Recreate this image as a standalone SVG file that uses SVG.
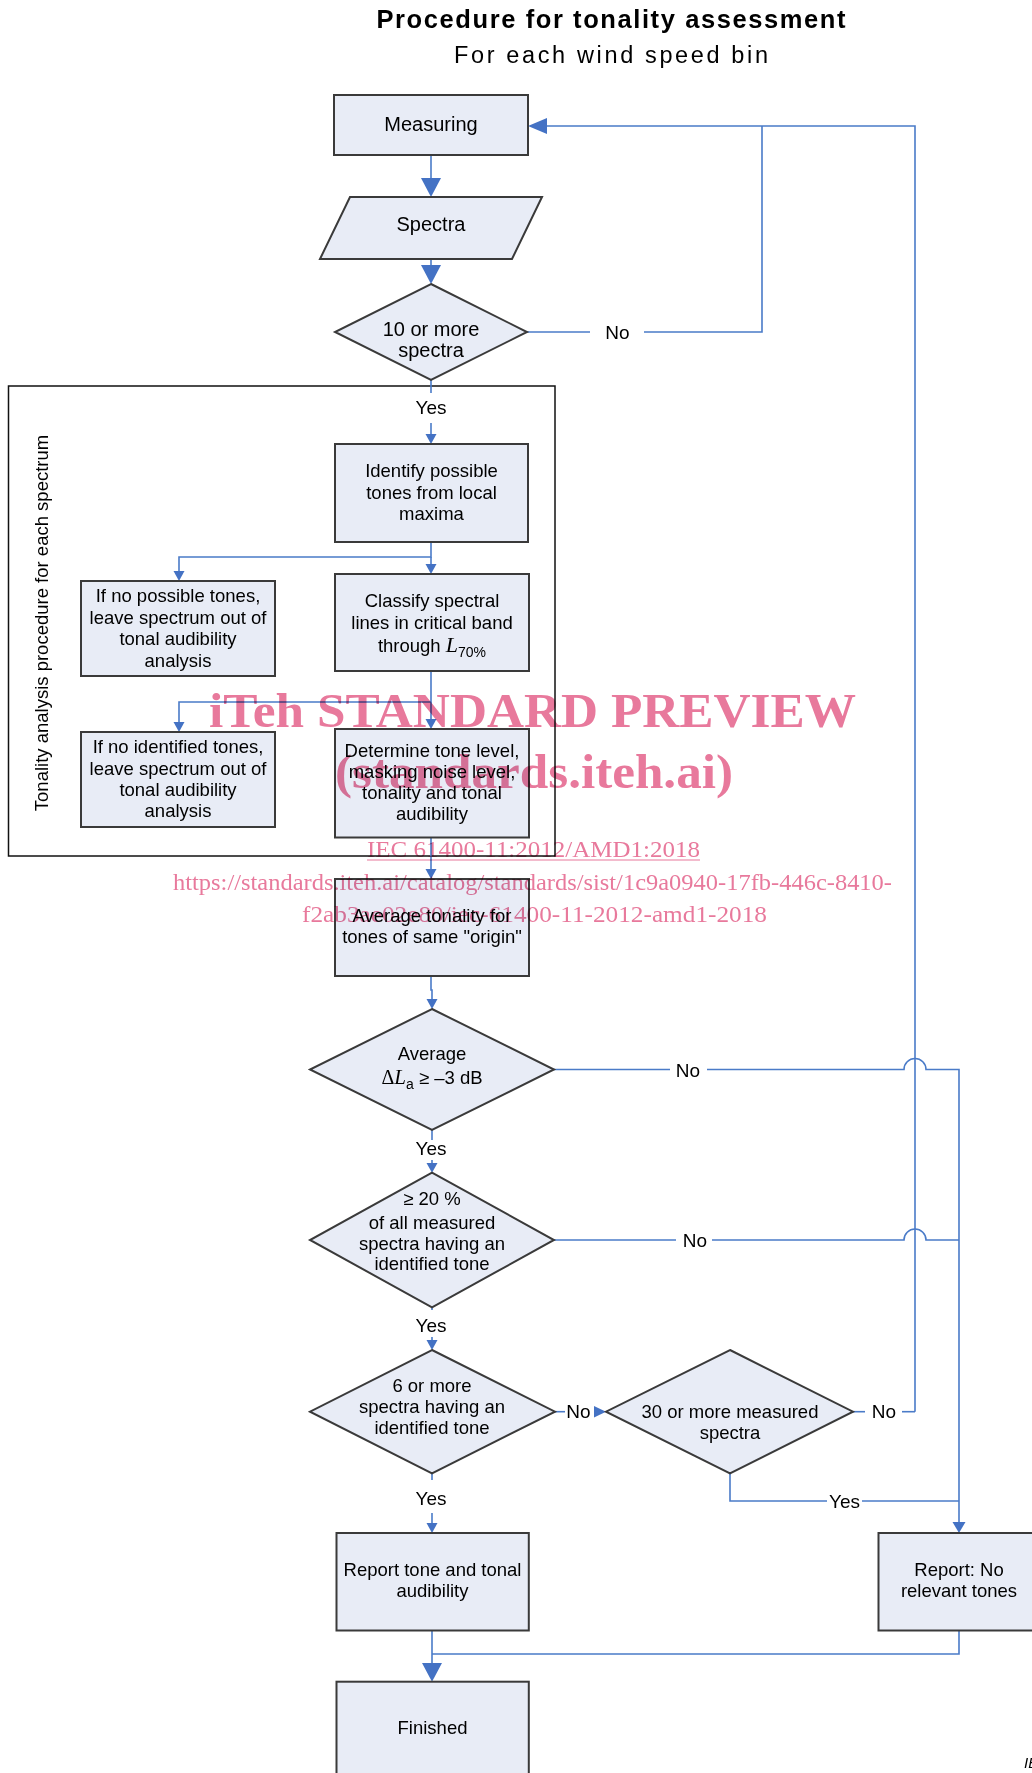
<svg xmlns="http://www.w3.org/2000/svg" width="1032" height="1773" viewBox="0 0 1032 1773">
<style>
.n{fill:#E8ECF6;stroke:#3a3a3a;stroke-width:2}
.t{font-family:"Liberation Sans",Arial,sans-serif;font-size:18.5px;fill:#000;text-anchor:middle}
.t20{font-size:20px}
.lbl{font-family:"Liberation Sans",Arial,sans-serif;font-size:19px;fill:#000;text-anchor:middle}
.c{fill:none;stroke:#4A7BC8;stroke-width:1.6}
.a{fill:#4472C4}
.sym{font-family:"Liberation Serif","Times New Roman",serif}
.wm{font-family:"Liberation Serif","Times New Roman",serif;fill:#E8799C}
</style>
<rect width="1032" height="1773" fill="#fff"/>

<g id="title">
<text x="611" y="28" font-family="Liberation Sans, Arial, sans-serif" font-weight="bold" font-size="25.5" text-anchor="middle" textLength="469" lengthAdjust="spacing">Procedure for tonality assessment</text>
<text x="611" y="63" font-family="Liberation Sans, Arial, sans-serif" font-size="23.5" text-anchor="middle" textLength="314" lengthAdjust="spacing">For each wind speed bin</text>
</g>

<g id="frame">
<rect x="8.5" y="386" width="546.5" height="470" fill="none" stroke="#111" stroke-width="1.5"/>
<text class="t" transform="translate(48,623) rotate(-90)">Tonality analysis procedure for each spectrum</text>
</g>

<g id="connectors">
<!-- Measuring -> Spectra -->
<path class="c" d="M431 155 V179"/>
<polygon class="a" points="421,178 441,178 431,197"/>
<!-- Spectra -> decision -->
<path class="c" d="M431 259 V266"/>
<polygon class="a" points="421,265 441,265 431,284"/>
<!-- No loop back to Measuring -->
<path class="c" d="M527 332 H590"/>
<text class="lbl t20" x="617.5" y="339">No</text>
<path class="c" d="M644 332 H762 V126"/>
<path class="c" d="M915 1411.7 V126 H546"/>
<polygon class="a" points="547,118 547,134 528,126"/>
<!-- Yes into analysis -->
<path class="c" d="M431 380 V393"/>
<text class="lbl" x="431" y="414">Yes</text>
<path class="c" d="M431 423 V435"/>
<polygon class="a" points="425.5,434 436.5,434 431,444"/>
<!-- Identify -> branches -->
<path class="c" d="M431 542 V557 H179 V572"/>
<polygon class="a" points="173.5,571 184.5,571 179,581"/>
<path class="c" d="M431 557 V565"/>
<polygon class="a" points="425.5,564 436.5,564 431,574"/>
<!-- Classify -> branches -->
<path class="c" d="M431 671 V702 H179 V723"/>
<polygon class="a" points="173.5,722 184.5,722 179,732"/>
<path class="c" d="M431 702 V720"/>
<polygon class="a" points="425.5,719 436.5,719 431,729"/>
<!-- Determine -> Average -->
<path class="c" d="M431 837.7 V870"/>
<polygon class="a" points="425.5,869 436.5,869 431,879"/>
<!-- Average -> diamond -->
<path class="c" d="M431 976 V990 H432 V1000"/>
<polygon class="a" points="426.5,999 437.5,999 432,1009"/>
<!-- Diamond Average dLa No -->
<path class="c" d="M554 1069.5 H670"/>
<text class="lbl" x="688" y="1076.5">No</text>
<path class="c" d="M707 1069.5 H904 A11 11 0 0 1 926 1069.5 H959 V1523"/>
<polygon class="a" points="952.5,1522 965.5,1522 959,1533"/>
<!-- Yes -> 20% -->
<path class="c" d="M432 1130 V1140"/>
<text class="lbl" x="431" y="1155">Yes</text>
<path class="c" d="M432 1160 V1164"/>
<polygon class="a" points="426.5,1163 437.5,1163 432,1172.7"/>
<!-- 20% No -->
<path class="c" d="M554 1240 H676"/>
<text class="lbl" x="695" y="1246.5">No</text>
<path class="c" d="M712 1240 H904 A11 11 0 0 1 926 1240 H959"/>
<!-- Yes -> 6 or more -->
<path class="c" d="M432 1307.3 V1310"/>
<text class="lbl" x="431" y="1331.5">Yes</text>
<path class="c" d="M432 1337 V1341"/>
<polygon class="a" points="426.5,1340 437.5,1340 432,1350"/>
<!-- 6 or more No -> 30 or more -->
<path class="c" d="M555 1411.7 H565"/>
<text class="lbl" x="578.5" y="1417.5">No</text>
<polygon class="a" points="594,1406 594,1417.4 606,1411.7"/>
<!-- 30 or more No -> loop -->
<path class="c" d="M853 1411.7 H865"/>
<text class="lbl" x="884" y="1417.5">No</text>
<path class="c" d="M902 1411.7 H915"/>
<!-- 30 or more Yes -->
<path class="c" d="M730 1473.3 V1501 H827"/>
<text class="lbl" x="844.5" y="1507.5">Yes</text>
<path class="c" d="M862 1501 H959"/>
<!-- 6 or more Yes -> Report tone -->
<path class="c" d="M432 1473.3 V1480"/>
<text class="lbl" x="431" y="1505">Yes</text>
<path class="c" d="M432 1513 V1524"/>
<polygon class="a" points="426.5,1523 437.5,1523 432,1533"/>
<!-- Reports -> Finished -->
<path class="c" d="M432 1630.7 V1664"/>
<path class="c" d="M959 1630.7 V1654 H432"/>
<polygon class="a" points="422,1663 442,1663 432,1681.7"/>
</g>

<g id="measuring">
<rect class="n" x="334" y="95" width="194" height="60"/>
<text class="t t20" x="431" y="131">Measuring</text>
</g>
<g id="spectra">
<polygon class="n" points="350,197 542,197 512,259 320,259"/>
<text class="t t20" x="431" y="231">Spectra</text>
</g>
<g id="dec-10-spectra">
<polygon class="n" points="431,284 527,332 431,380 335,332"/>
<text class="t t20" x="431" y="336">10 or more</text>
<text class="t t20" x="431" y="356.5">spectra</text>
</g>
<g id="identify">
<rect class="n" x="335" y="444" width="193" height="98"/>
<text class="t" x="431.5" y="477">Identify possible</text>
<text class="t" x="431.5" y="498.5">tones from local</text>
<text class="t" x="431.5" y="519.5">maxima</text>
</g>
<g id="no-possible">
<rect class="n" x="81" y="581" width="194" height="95"/>
<text class="t" x="178" y="602">If no possible tones,</text>
<text class="t" x="178" y="623.5">leave spectrum out of</text>
<text class="t" x="178" y="645">tonal audibility</text>
<text class="t" x="178" y="666.5">analysis</text>
</g>
<g id="classify">
<rect class="n" x="335" y="574" width="194" height="97"/>
<text class="t" x="432" y="607">Classify spectral</text>
<text class="t" x="432" y="628.5">lines in critical band</text>
<text class="t" x="432" y="651.5">through <tspan class="sym" font-style="italic" font-size="22">L</tspan><tspan font-size="14" dy="5">70%</tspan></text>
</g>
<g id="no-identified">
<rect class="n" x="81" y="732" width="194" height="95"/>
<text class="t" x="178" y="753">If no identified tones,</text>
<text class="t" x="178" y="774.5">leave spectrum out of</text>
<text class="t" x="178" y="796">tonal audibility</text>
<text class="t" x="178" y="817">analysis</text>
</g>
<g id="determine">
<rect class="n" x="335" y="729" width="194" height="108.5"/>
<text class="t" x="432" y="757">Determine tone level,</text>
<text class="t" x="432" y="777.5">masking noise level,</text>
<text class="t" x="432" y="799">tonality and tonal</text>
<text class="t" x="432" y="820">audibility</text>
</g>
<g id="average">
<rect class="n" x="335" y="879" width="194" height="97"/>
<text class="t" x="432" y="922">Average tonality for</text>
<text class="t" x="432" y="943">tones of same "origin"</text>
</g>
<g id="dec-delta-la">
<polygon class="n" points="432,1009 554,1069.5 432,1130 310,1069.5"/>
<text class="t" x="432" y="1059.5">Average</text>
<text class="t" x="432" y="1083.5"><tspan class="sym" font-size="20">Δ</tspan><tspan class="sym" font-style="italic" font-size="21">L</tspan><tspan font-size="14" dy="5">a</tspan><tspan dy="-5"> ≥ –3 dB</tspan></text>
</g>
<g id="dec-20-percent">
<polygon class="n" points="432,1172.7 554,1240 432,1307.3 310,1240"/>
<text class="t" x="432" y="1205">≥ 20 %</text>
<text class="t" x="432" y="1228.5">of all measured</text>
<text class="t" x="432" y="1249.5">spectra having an</text>
<text class="t" x="432" y="1270">identified tone</text>
</g>
<g id="dec-6-spectra">
<polygon class="n" points="432,1350 555,1411.7 432,1473.3 310,1411.7"/>
<text class="t" x="432" y="1391.5">6 or more</text>
<text class="t" x="432" y="1412.5">spectra having an</text>
<text class="t" x="432" y="1433.5">identified tone</text>
</g>
<g id="dec-30-spectra">
<polygon class="n" points="730,1350 853,1411.7 730,1473.3 606,1411.7"/>
<text class="t" x="730" y="1418">30 or more measured</text>
<text class="t" x="730" y="1439">spectra</text>
</g>
<g id="report-tone">
<rect class="n" x="336.5" y="1533" width="192.3" height="97.5"/>
<text class="t" x="432.5" y="1576">Report tone and tonal</text>
<text class="t" x="432.5" y="1597">audibility</text>
</g>
<g id="report-no">
<rect class="n" x="878.5" y="1533" width="161" height="97.5"/>
<text class="t" x="959" y="1576">Report: No</text>
<text class="t" x="959" y="1597">relevant tones</text>
</g>
<g id="finished">
<rect class="n" x="336.5" y="1681.7" width="192.3" height="120"/>
<text class="t" x="432.5" y="1733.5">Finished</text>
</g>

<text x="1024" y="1768" font-family="Liberation Sans, Arial, sans-serif" font-style="italic" font-size="15">IEC</text>

<g id="watermark" style="mix-blend-mode:multiply">
<text class="wm" x="209" y="727" font-size="48" font-weight="bold" textLength="647" lengthAdjust="spacingAndGlyphs">iTeh STANDARD PREVIEW</text>
<text class="wm" x="335" y="788" font-size="48" font-weight="bold" textLength="398" lengthAdjust="spacingAndGlyphs">(standards.iteh.ai)</text>
<text class="wm" x="367" y="857" font-size="24" textLength="333" lengthAdjust="spacingAndGlyphs">IEC 61400-11:2012/AMD1:2018</text>
<line x1="367" y1="860" x2="700" y2="860" stroke="#E8799C" stroke-width="1.2"/>
<text class="wm" x="173" y="890" font-size="24" textLength="719" lengthAdjust="spacingAndGlyphs">https://standards.iteh.ai/catalog/standards/sist/1c9a0940-17fb-446c-8410-</text>
<text class="wm" x="302" y="921.5" font-size="24" textLength="465" lengthAdjust="spacingAndGlyphs">f2ab3ae02e80/iec-61400-11-2012-amd1-2018</text>
</g>
</svg>
